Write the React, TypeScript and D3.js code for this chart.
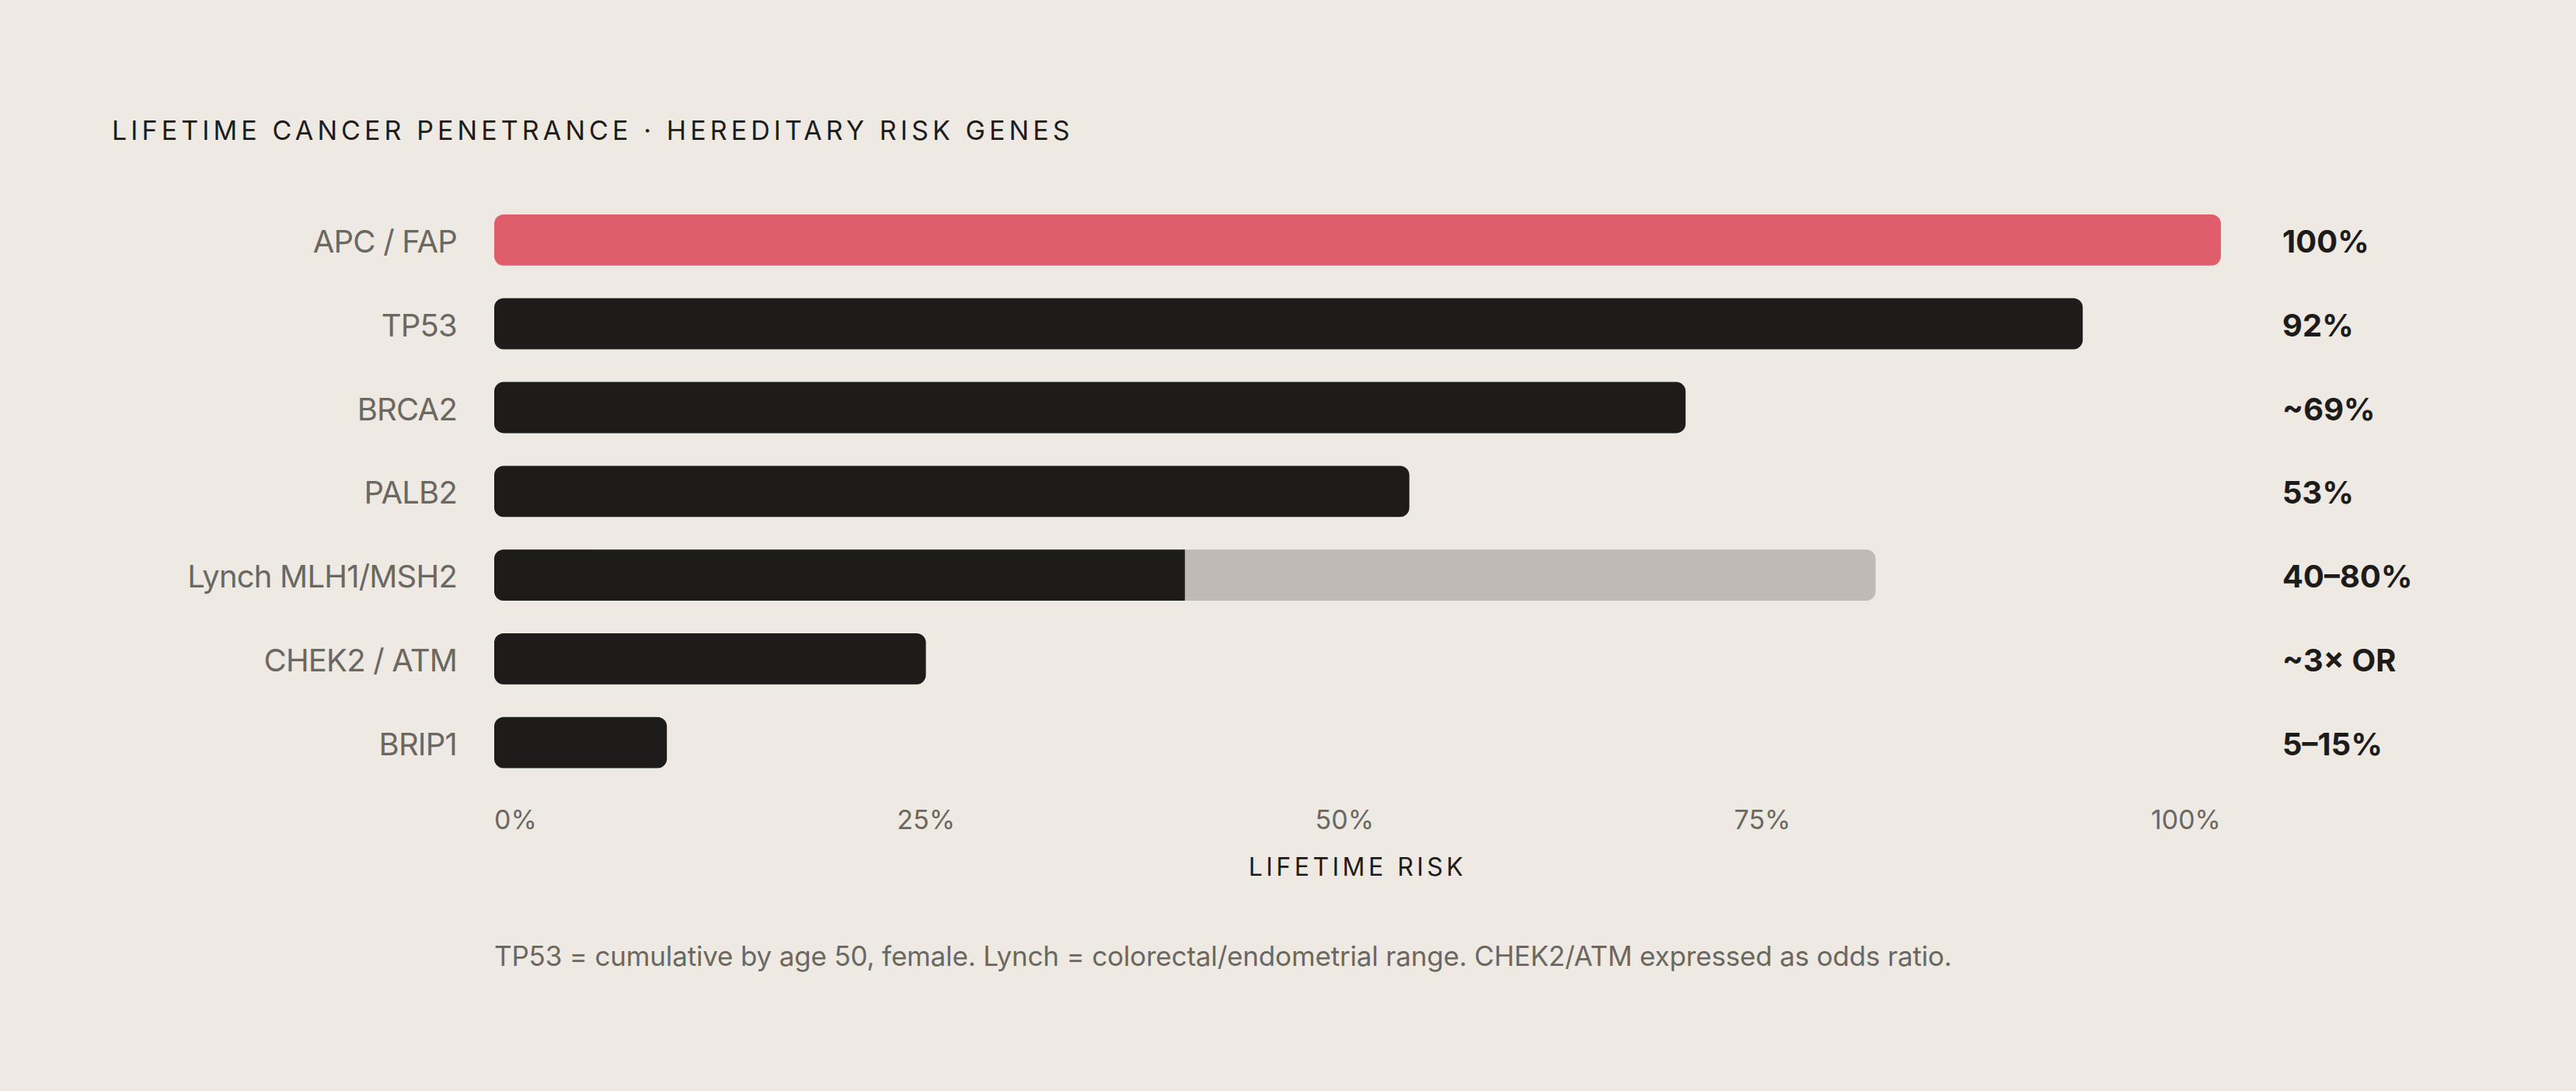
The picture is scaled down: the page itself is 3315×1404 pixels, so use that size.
import * as d3 from "d3";
import { useEffect, useRef } from "react";

// ---- data ----
const genes = [
  "APC / FAP",
  "TP53",
  "BRCA2",
  "PALB2",
  "Lynch MLH1/MSH2",
  "CHEK2 / ATM",
  "BRIP1",
];
const riskLow = [100, 92, 69, 53, 40, 25, 10];
const riskHigh = [100, 92, 69, 53, 80, 25, 10];
const valueLabels = ["100%", "92%", "~69%", "53%", "40–80%", "~3× OR", "5–15%"];
const highlight = ["APC / FAP"];
const ticks = [0, 25, 50, 75, 100];

const W = 3315;
const H = 1404;
const BG = "#EEEAE3";
const INK = "#1E1C1A";
const MUTED = "#6B6761";
const RED = "#E05D6C";
const RANGE = "#BFBBB3";
const FONT = "Inter, 'Open Sans', sans-serif";

// rect with rounded corners on the chosen sides
function barPath(x0: number, x1: number, y: number, h: number, r: number, left: boolean, right: boolean) {
  const p = d3.path();
  const rl = left ? r : 0;
  const rr = right ? r : 0;
  p.moveTo(x0 + rl, y);
  p.lineTo(x1 - rr, y);
  if (rr) p.arcTo(x1, y, x1, y + rr, rr);
  p.lineTo(x1, y + h - rr);
  if (rr) p.arcTo(x1, y + h, x1 - rr, y + h, rr);
  p.lineTo(x0 + rl, y + h);
  if (rl) p.arcTo(x0, y + h, x0, y + h - rl, rl);
  p.lineTo(x0, y + rl);
  if (rl) p.arcTo(x0, y, x0 + rl, y, rl);
  p.closePath();
  return p.toString();
}

export default function App() {
  const tickRef = useRef<SVGGElement>(null);

  const x = d3.scaleLinear().domain([0, 100]).range([636, 2858]);
  const y = d3
    .scaleBand<string>()
    .domain(genes)
    .range([255, 1009.6])
    .paddingInner(0.39)
    .paddingOuter(0.195);
  const bh = y.bandwidth();
  const r = 12;

  useEffect(() => {
    document.body.style.margin = "0";
    document.body.style.background = BG;

    // tick labels spread edge to edge with equal gaps between them
    if (!tickRef.current) return;
    const g = d3.select(tickRef.current);
    g.selectAll("*").remove();
    const labels = g
      .selectAll("text")
      .data(ticks)
      .join("text")
      .attr("y", 1067)
      .attr("font-size", 34)
      .attr("fill", MUTED)
      .text((d) => `${d}%`);
    const widths = labels.nodes().map((n) => (n as SVGTextElement).getComputedTextLength());
    const total = d3.sum(widths);
    const gap = (x(100) - x(0) - total) / (ticks.length - 1);
    let pos = x(0);
    const starts: number[] = [];
    widths.forEach((w) => {
      starts.push(pos);
      pos += w + gap;
    });
    labels.attr("x", (_, i) => starts[i]);
  }, []);

  return (
    <svg width={W} height={H} style={{ display: "block", background: BG }} fontFamily={FONT}>
      <rect width={W} height={H} fill={BG} />
      <text x={144} y={180} fontSize={34} letterSpacing="0.15em" fill={INK}>
        LIFETIME CANCER PENETRANCE · HEREDITARY RISK GENES
      </text>

      {genes.map((g, i) => {
        const top = y(g)!;
        const cy = top + bh / 2;
        const lo = riskLow[i];
        const hi = riskHigh[i];
        const color = highlight.includes(g) ? RED : INK;
        return (
          <g key={g}>
            <text x={588} y={cy + 16} textAnchor="end" fontSize={40} letterSpacing={-0.8} fill={MUTED}>
              {g}
            </text>
            {hi > lo ? (
              <>
                <path d={barPath(x(0), x(hi), top, bh, r, true, true)} fill={RANGE} />
                <path d={barPath(x(0), x(lo), top, bh, r, true, false)} fill={color} />
              </>
            ) : (
              <path d={barPath(x(0), x(lo), top, bh, r, true, true)} fill={color} />
            )}
            <text x={2937} y={cy + 16} fontSize={40} fontWeight={700} fill={INK}>
              {valueLabels[i]}
            </text>
          </g>
        );
      })}

      <g ref={tickRef} />

      <text
        x={(x(0) + x(100)) / 2}
        y={1127}
        fontSize={32}
        letterSpacing="0.14em"
        textAnchor="middle"
        fill={INK}
      >
        LIFETIME RISK
      </text>

      <text x={636} y={1243} fontSize={35} letterSpacing={-0.17} fill={MUTED}>
        TP53 = cumulative by age 50, female. Lynch = colorectal/endometrial range. CHEK2/ATM expressed as odds ratio.
      </text>
    </svg>
  );
}
